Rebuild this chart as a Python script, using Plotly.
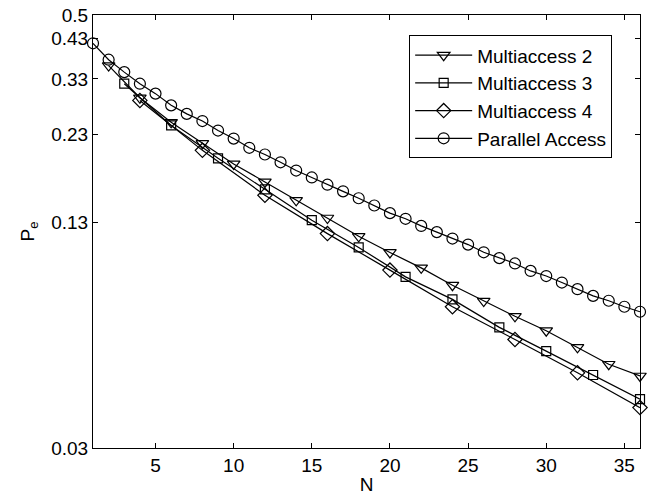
import plotly.graph_objects as go

# ---- data ----
n_pa = list(range(1, 37))
pe_pa = [0.416, 0.374, 0.345, 0.320, 0.300, 0.278, 0.263, 0.251, 0.236, 0.224,
         0.211, 0.202, 0.192, 0.182, 0.174, 0.166, 0.159, 0.152, 0.145, 0.138,
         0.133, 0.127, 0.122, 0.117, 0.1125, 0.107, 0.103, 0.0995, 0.0948, 0.0917,
         0.0879, 0.0842, 0.0806, 0.0781, 0.0751, 0.0727]

n_m2 = list(range(2, 37, 2))
pe_m2 = [0.360, 0.292, 0.249, 0.217, 0.190, 0.169, 0.150, 0.1337, 0.1187,
         0.1069, 0.0967, 0.0864, 0.0779, 0.0706, 0.0643, 0.0577, 0.0517, 0.0479]

n_m3 = list(range(3, 37, 3))
pe_m3 = [0.320, 0.244, 0.197, 0.161, 0.1318, 0.1104, 0.0912, 0.0788, 0.0657,
         0.0563, 0.0482, 0.0412]

n_m4 = list(range(4, 37, 4))
pe_m4 = [0.287, 0.2075, 0.155, 0.1208, 0.0953, 0.0751, 0.0607, 0.0489, 0.0390]

y_ticks = [0.03, 0.13, 0.23, 0.33, 0.43, 0.5]
y_tick_labels = ["0.03", "0.13", "0.23", "0.33", "0.43", "0.5"]
x_ticks = [5, 10, 15, 20, 25, 30, 35]

series = [
    ("Multiaccess 2", n_m2, pe_m2, "triangle-down-open", 11),
    ("Multiaccess 3", n_m3, pe_m3, "square-open", 9),
    ("Multiaccess 4", n_m4, pe_m4, "diamond-open", 11),
    ("Parallel Access", n_pa, pe_pa, "circle-open", 11),
]

FONT = "Liberation Sans, Arial, Helvetica, sans-serif"
FS = 19

fig = go.Figure()
for name, xs, ys, sym, sz in series:
    fig.add_trace(go.Scatter(
        x=xs, y=ys, name=name, mode="lines+markers", cliponaxis=False,
        line=dict(color="black", width=1.2),
        marker=dict(symbol=sym, size=sz, color="black", line=dict(width=1.2, color="black")),
    ))

axis_common = dict(
    showline=True, linecolor="black", linewidth=1, mirror="allticks",
    ticks="inside", ticklen=5, tickcolor="black", showgrid=False, zeroline=False,
    automargin=False,
    tickfont=dict(family=FONT, size=FS, color="black"),
)

fig.update_xaxes(
    range=[1, 36], tickvals=x_ticks,
    title=dict(text="N", font=dict(family=FONT, size=FS, color="black"), standoff=2),
    **axis_common,
)
fig.update_yaxes(
    type="log", range=[-1.5228787, -0.30103],
    tickvals=y_ticks, ticktext=y_tick_labels,
    title=dict(text="P<sub>e</sub>", font=dict(family=FONT, size=FS, color="black"), standoff=11),
    **axis_common,
)

fig.update_layout(
    width=654, height=495,
    margin=dict(l=93, r=14, t=15, b=47),
    paper_bgcolor="white", plot_bgcolor="white",
    font=dict(family=FONT, size=FS, color="black"),
    legend=dict(
        x=0.578, y=0.953, xanchor="left", yanchor="top",
        bordercolor="black", borderwidth=1, bgcolor="white",
        font=dict(family=FONT, size=FS, color="black"),
        tracegroupgap=0, itemwidth=57,
    ),
    showlegend=True,
)

fig.write_html(
    "out.html",
    config={"displayModeBar": False},
    post_script="document.body.style.margin='0px';document.body.style.padding='0px';",
)
